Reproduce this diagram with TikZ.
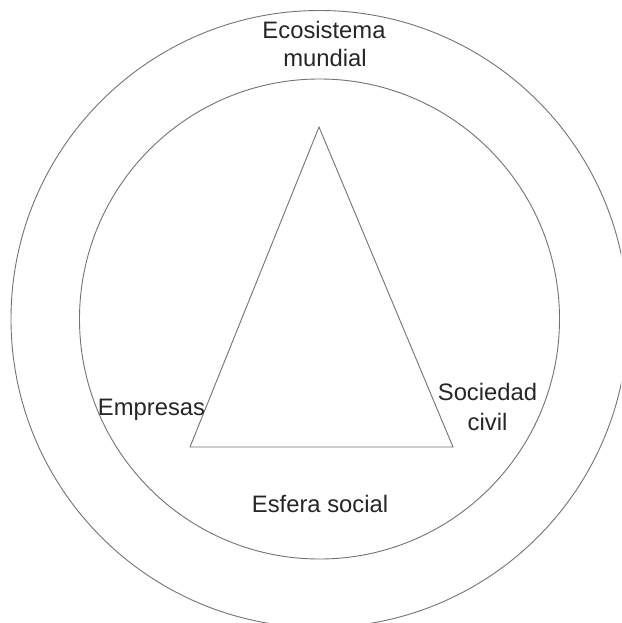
\documentclass[tikz,border=0pt]{standalone}
\usepackage{fontspec}
\setmainfont{Liberation Sans}
\begin{document}
\begin{tikzpicture}[x=1pt,y=-1pt,
  ring/.style={draw=black!55,line width=0.9pt},
  lbl/.style={text=black!85,font=\fontsize{23.8}{28}\selectfont,inner sep=0pt,align=center}]
\useasboundingbox (0,0) rectangle (621,623);
\clip (0,0) rectangle (621,623);
\fill[white] (0,0) rectangle (621,623);
\coordinate (c) at (319.5,319);
\draw[ring] (c) circle[radius=308.5];
\draw[ring] (c) circle[radius=240];
\coordinate (apex) at (319,127);
\coordinate (bl) at (190,447);
\coordinate (br) at (453,447);
\draw[ring,line join=miter] (apex) -- (bl) -- (br) -- cycle;
\node[lbl,anchor=base] (eco) at (324,39) {Ecosistema};
\node[lbl,anchor=base] (mun) at (325,67) {mundial};
\node[lbl,anchor=base] (emp) at (151.5,415) {Empresas};
\node[lbl,anchor=base] (soc) at (487.5,400) {Sociedad};
\node[lbl,anchor=base] (civ) at (487.5,430) {civil};
\node[lbl,anchor=base] (esf) at (320,512) {Esfera social};
\end{tikzpicture}
\end{document}
